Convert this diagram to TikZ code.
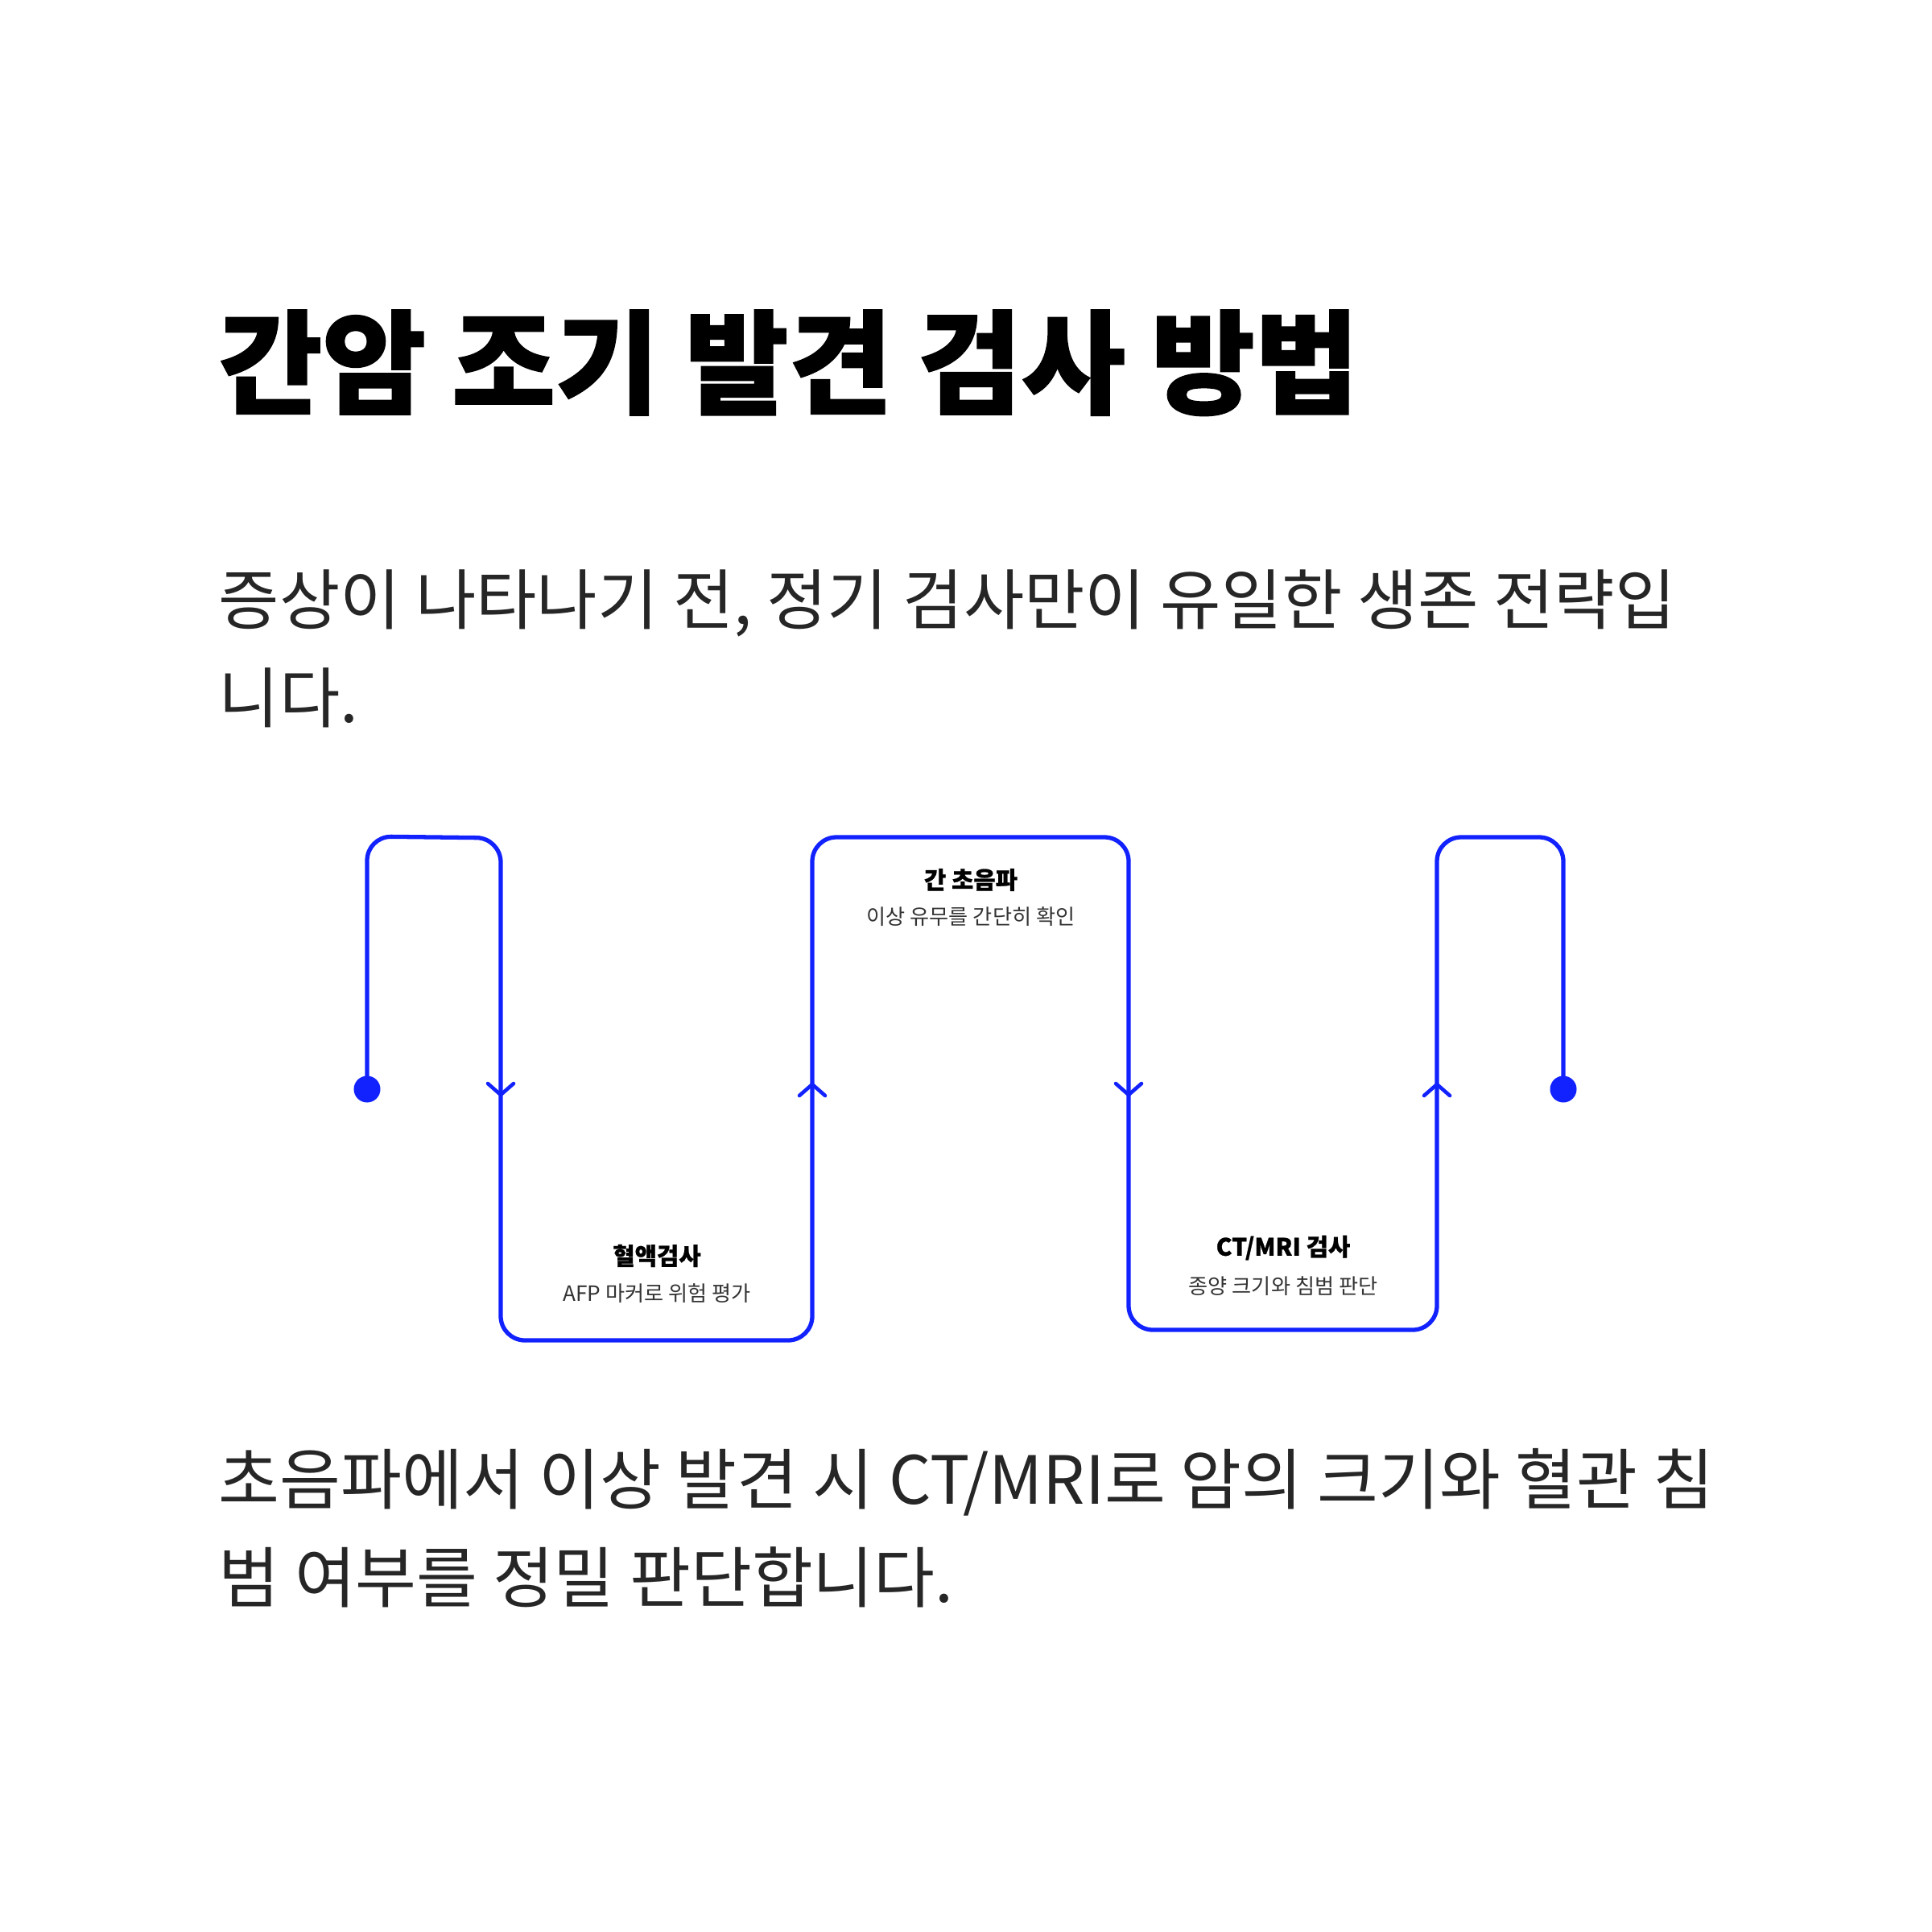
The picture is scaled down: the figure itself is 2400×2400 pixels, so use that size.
\documentclass[tikz,border=0pt]{standalone}
\usepackage{fontspec}
\setmainfont{Noto Sans CJK KR}
\definecolor{flow}{HTML}{1122FF}
\definecolor{ink}{HTML}{262626}
\definecolor{subink}{HTML}{333333}
\tikzset{
  flowline/.style={draw=flow, line width=1.5pt, rounded corners=0.3cm, line join=round},
  chevron/.style={draw=flow, line width=1.3pt, line cap=round, line join=round},
  enddot/.style={fill=flow},
  titletext/.style={anchor=base west, inner sep=0, font=\fontsize{39.8pt}{44pt}\selectfont\bfseries\addfontfeatures{FakeBold=1.2}, text=black},
  paratext/.style={anchor=base west, inner sep=0, font=\fontsize{23.3pt}{28pt}\selectfont, text=ink},
  labeltitle/.style={anchor=center, inner sep=0, font=\fontsize{8.45pt}{10pt}\selectfont\bfseries\addfontfeatures{FakeBold=0.8}, text=black},
  labelsub/.style={anchor=center, inner sep=0, font=\fontsize{7.45pt}{9pt}\selectfont, text=subink}
}
\begin{document}
\begin{tikzpicture}[x=0.01cm, y=-0.01cm]
\useasboundingbox (0,0) rectangle (2400,2400);
\fill[white] (0,0) rectangle (2400,2400);

% texts
\node[titletext] (title) at (271,503) {간암 조기 발견 검사 방법};
\node[paratext] (intro1) at (271,775) {증상이 나타나기 전, 정기 검사만이 유일한 생존 전략입};
\node[paratext] (intro2) at (271,897) {니다.};
\node[paratext, font=\fontsize{23.45pt}{28pt}\selectfont] (outro1) at (271,1868) {초음파에서 이상 발견 시 CT/MRI로 암의 크기와 혈관 침};
\node[paratext, font=\fontsize{23.45pt}{28pt}\selectfont] (outro2) at (271,1990) {범 여부를 정밀 판단합니다.};

% path points
\coordinate (start) at (456,1353);
\coordinate (p1) at (456,1039);
\coordinate (p2) at (622,1041);
\coordinate (p3) at (622,1665);
\coordinate (p4) at (1009,1665);
\coordinate (p5) at (1009,1040);
\coordinate (p6) at (1402,1040);
\coordinate (p7) at (1402,1652);
\coordinate (p8) at (1785,1652);
\coordinate (p9) at (1785,1040);
\coordinate (p10) at (1942,1040);
\coordinate (end) at (1942,1353);

\draw[flowline] (start) -- (p1) -- (p2) -- (p3) -- (p4) -- (p5) -- (p6) -- (p7) -- (p8) -- (p9) -- (p10) -- (end);
\fill[enddot] (start) circle[radius=0.165cm];
\fill[enddot] (end) circle[radius=0.165cm];

% arrow marks
\coordinate (a1) at (622,1360);
\coordinate (a2) at (1009,1347);
\coordinate (a3) at (1402,1360);
\coordinate (a4) at (1785,1347);
\draw[chevron] (a1) ++(-16,-14) -- (a1) -- ++(16,-14);
\draw[chevron] (a2) ++(-16,14) -- (a2) -- ++(16,14);
\draw[chevron] (a3) ++(-16,-14) -- (a3) -- ++(16,-14);
\draw[chevron] (a4) ++(-16,14) -- (a4) -- ++(16,14);

% step labels
\node[labeltitle] (us) at (1206,1093) {간 초음파};
\node[labelsub] (ussub) at (1206,1139) {이상 유무를 간단히 확인};
\node[labeltitle] (blood) at (816,1560) {혈액검사};
\node[labelsub] (bloodsub) at (816,1607) {AFP 마커로 위험 평가};
\node[labeltitle] (ct) at (1594,1550) {CT/MRI 검사};
\node[labelsub] (ctsub) at (1594,1598) {종양 크기와 침범 판단};
\end{tikzpicture}
\end{document}
